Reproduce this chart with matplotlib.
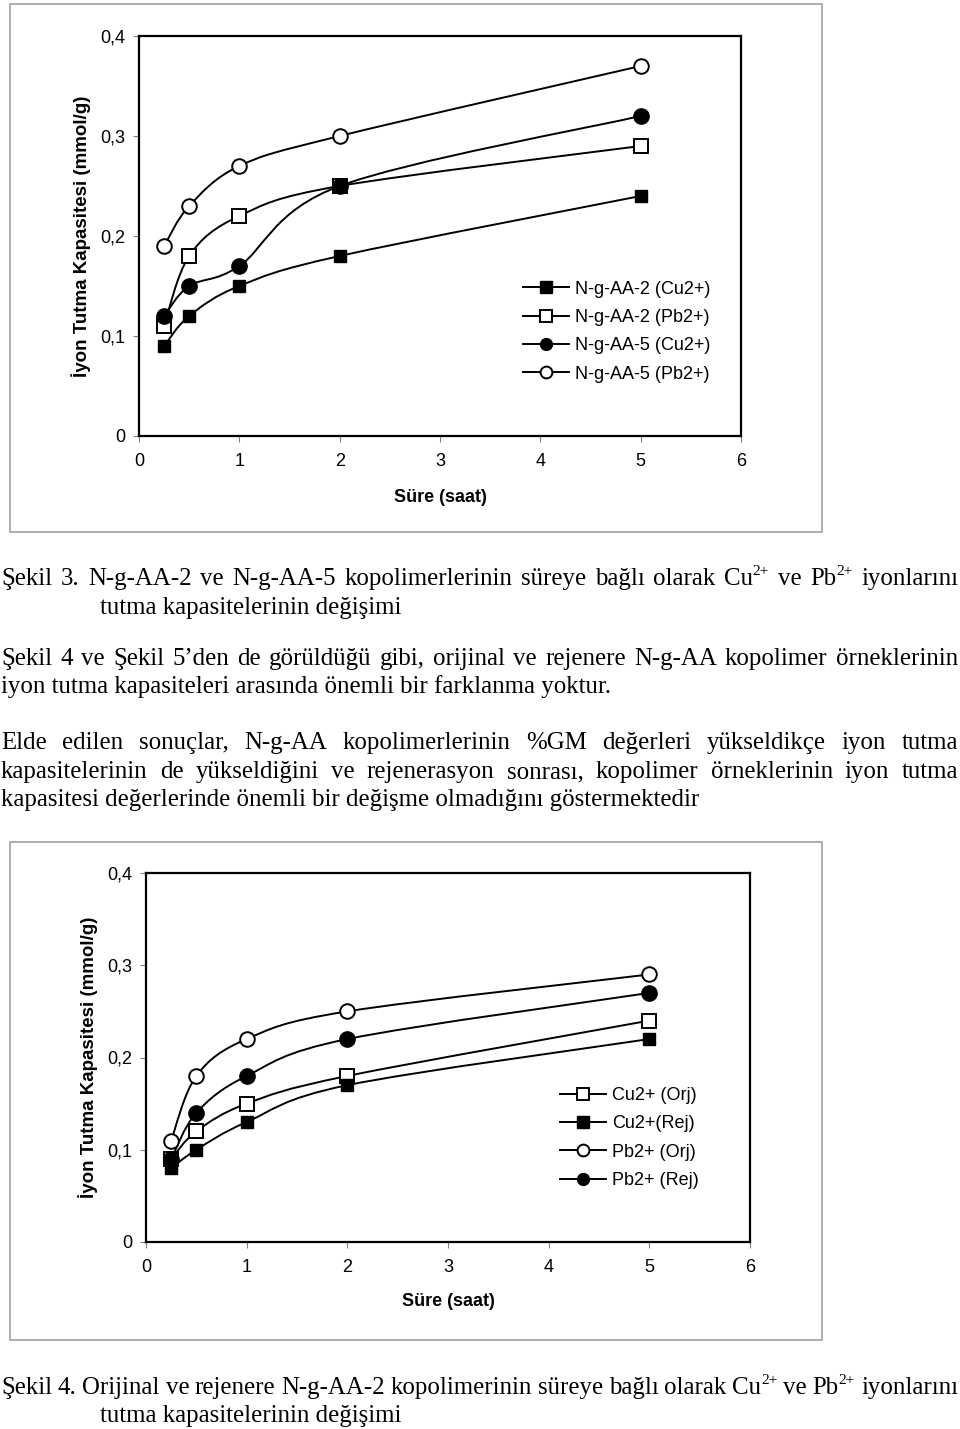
import matplotlib
matplotlib.use("Agg")
import matplotlib.pyplot as plt
import numpy as np
from matplotlib.path import Path
from matplotlib.patches import PathPatch, Rectangle
from matplotlib.lines import Line2D

plt.rcParams["font.family"] = ["Liberation Sans", "DejaVu Sans"]

# --- data -------------------------------------------------------------
sure = [0.25, 0.5, 1, 2, 5]

# Sekil 3
aa2_cu = [0.09, 0.12, 0.15, 0.18, 0.24]
aa2_pb = [0.11, 0.18, 0.22, 0.25, 0.29]
aa5_cu = [0.12, 0.15, 0.17, 0.25, 0.32]
aa5_pb = [0.19, 0.23, 0.27, 0.30, 0.37]

# Sekil 4
cu_orj = [0.09, 0.12, 0.15, 0.18, 0.24]
cu_rej = [0.08, 0.10, 0.13, 0.17, 0.22]
pb_orj = [0.11, 0.18, 0.22, 0.25, 0.29]
pb_rej = [0.09, 0.14, 0.18, 0.22, 0.27]

x_ticks = [0, 1, 2, 3, 4, 5, 6]
y_ticks = [0, 0.1, 0.2, 0.3, 0.4]
y_ticklabels = ["0", "0,1", "0,2", "0,3", "0,4"]

# "^" marks a superscript part of a word
cap3 = ["Şekil 3. N-g-AA-2 ve N-g-AA-5 kopolimerlerinin süreye bağlı olarak Cu^2+ ve Pb^2+ iyonlarını",
        "tutma kapasitelerinin değişimi"]
para1 = ["Şekil 4 ve Şekil 5’den de görüldüğü gibi, orijinal ve rejenere N-g-AA kopolimer örneklerinin",
         "iyon tutma kapasiteleri arasında önemli bir farklanma yoktur."]
para2 = ["Elde edilen sonuçlar, N-g-AA kopolimerlerinin %GM değerleri yükseldikçe iyon tutma",
         "kapasitelerinin de yükseldiğini ve rejenerasyon sonrası, kopolimer örneklerinin iyon tutma",
         "kapasitesi değerlerinde önemli bir değişme olmadığını göstermektedir"]
cap4 = ["Şekil 4. Orijinal ve rejenere N-g-AA-2 kopolimerinin süreye bağlı olarak Cu^2+ ve Pb^2+ iyonlarını",
        "tutma kapasitelerinin değişimi"]

W, H = 960, 1429
fig = plt.figure(figsize=(9.6, 14.29), dpi=100)
SERIF = "Liberation Serif"
TXT = 17.9
FS = 13


def px_axes(l, t, r, b):
    return fig.add_axes([l / W, 1 - b / H, (r - l) / W, (b - t) / H])


def frame(l, t, r, b):
    fig.add_artist(Rectangle((l / W, 1 - b / H), (r - l) / W, (b - t) / H,
                             transform=fig.transFigure, fill=False,
                             ec="#a9a9a9", lw=1.3))


def smooth_line(ax, x, y):
    # excel style smoothed line (catmull-rom as cubic bezier)
    p = np.column_stack([x, y]).astype(float)
    e = np.vstack([p[0], p, p[-1]])
    verts, codes = [p[0]], [Path.MOVETO]
    for i in range(len(p) - 1):
        c1 = e[i + 1] + (e[i + 2] - e[i]) / 6
        c2 = e[i + 2] - (e[i + 3] - e[i + 1]) / 6
        verts += [c1, c2, e[i + 2]]
        codes += [Path.CURVE4] * 3
    ax.add_patch(PathPatch(Path(verts, codes), fill=False, ec="black", lw=1.4, zorder=2))


STY = {
    "fsq": dict(marker="s", ms=8.5, mfc="black", mec="black", mew=1),
    "osq": dict(marker="s", ms=10.5, mfc="white", mec="black", mew=1.4),
    "fci": dict(marker="o", ms=11, mfc="black", mec="black", mew=1),
    "oci": dict(marker="o", ms=10.5, mfc="white", mec="black", mew=1.4),
}


def series(ax, y, sty, label):
    smooth_line(ax, sure, y)
    ax.plot(sure, y, ls="none", zorder=3, **STY[sty])
    s = dict(STY[sty])
    s["ms"] = 8.5
    return Line2D([], [], color="black", lw=1.4, label=label, **s)


def setup(ax, ylab_x, xlab_y):
    ax.set_xlim(0, 6)
    ax.set_ylim(0, 0.4)
    ax.set_xticks(x_ticks)
    ax.set_yticks(y_ticks)
    ax.set_yticklabels(y_ticklabels)
    for s in ax.spines.values():
        s.set_linewidth(1.6)
    ax.tick_params(axis="both", direction="out", length=4, width=0.8,
                   color="#808080", labelsize=FS)
    ax.tick_params(axis="x", pad=8)
    ax.tick_params(axis="y", pad=6)
    ax.set_ylabel("İyon Tutma Kapasitesi (mmol/g)", fontsize=13.5, fontweight="bold")
    ax.set_xlabel("Süre (saat)", fontsize=FS, fontweight="bold")
    ax.yaxis.set_label_coords(ylab_x, 0.5)
    ax.xaxis.set_label_coords(0.5, xlab_y)


def legend(ax, h, x, y):
    ax.legend(handles=h, loc="center left", bbox_to_anchor=(x, y),
              frameon=False, fontsize=FS, handlelength=2.55, handletextpad=0.33,
              labelspacing=0.63, borderpad=0, borderaxespad=0)


# --- Sekil 3 ----------------------------------------------------------
frame(10, 4, 822, 532)
ax1 = px_axes(139, 36, 741, 436)
h = [series(ax1, aa2_cu, "fsq", "N-g-AA-2 (Cu2+)"),
     series(ax1, aa2_pb, "osq", "N-g-AA-2 (Pb2+)"),
     series(ax1, aa5_cu, "fci", "N-g-AA-5 (Cu2+)"),
     series(ax1, aa5_pb, "oci", "N-g-AA-5 (Pb2+)")]
setup(ax1, -0.08, -0.1325)
legend(ax1, h, 0.638, 0.261)

# --- Sekil 4 ----------------------------------------------------------
frame(10, 842, 822, 1340)
ax2 = px_axes(146, 873, 750, 1242)
h = [series(ax2, cu_orj, "osq", "Cu2+ (Orj)"),
     series(ax2, cu_rej, "fsq", "Cu2+(Rej)"),
     series(ax2, pb_orj, "oci", "Pb2+ (Orj)"),
     series(ax2, pb_rej, "fci", "Pb2+ (Rej)")]
setup(ax2, -0.0795, -0.138)
legend(ax2, h, 0.6854, 0.2816)

# --- body text --------------------------------------------------------
renderer = fig.canvas.get_renderer()
SUP = 0.62


def text_w(w, size):
    t = fig.text(0, 0, w, fontsize=size, family=SERIF)
    wd = t.get_window_extent(renderer).width
    t.remove()
    return wd


def word_w(w):
    if "^" in w:
        base, sup = w.split("^")
        return text_w(base, TXT) + text_w(sup, TXT * SUP)
    return text_w(w, TXT)


def put_word(w, x, y):
    if "^" in w:
        base, sup = w.split("^")
        fig.text(x / W, 1 - y / H, base, fontsize=TXT, family=SERIF, ha="left", va="baseline")
        x2 = x + text_w(base, TXT)
        fig.text(x2 / W, 1 - (y - 10) / H, sup, fontsize=TXT * SUP, family=SERIF,
                 ha="left", va="baseline")
    else:
        fig.text(x / W, 1 - y / H, w, fontsize=TXT, family=SERIF, ha="left", va="baseline")


def line(txt, x0, y, justify=False, x1=958):
    if not justify:
        fig.text(x0 / W, 1 - y / H, txt, fontsize=TXT, family=SERIF,
                 ha="left", va="baseline")
        return
    words = txt.split(" ")
    widths = [word_w(w) for w in words]
    gap = (x1 - x0 - sum(widths)) / (len(words) - 1)
    x = x0
    for w, wd in zip(words, widths):
        put_word(w, x, y)
        x += wd + gap


line(cap3[0], 1, 585, True)
line(cap3[1], 100, 614)
line(para1[0], 1, 665, True)
line(para1[1], 1, 693)
line(para2[0], 1, 749, True)
line(para2[1], 1, 778, True)
line(para2[2], 1, 806)
line(cap4[0], 1, 1394, True)
line(cap4[1], 100, 1422)

fig.savefig("out.png", dpi=100)
